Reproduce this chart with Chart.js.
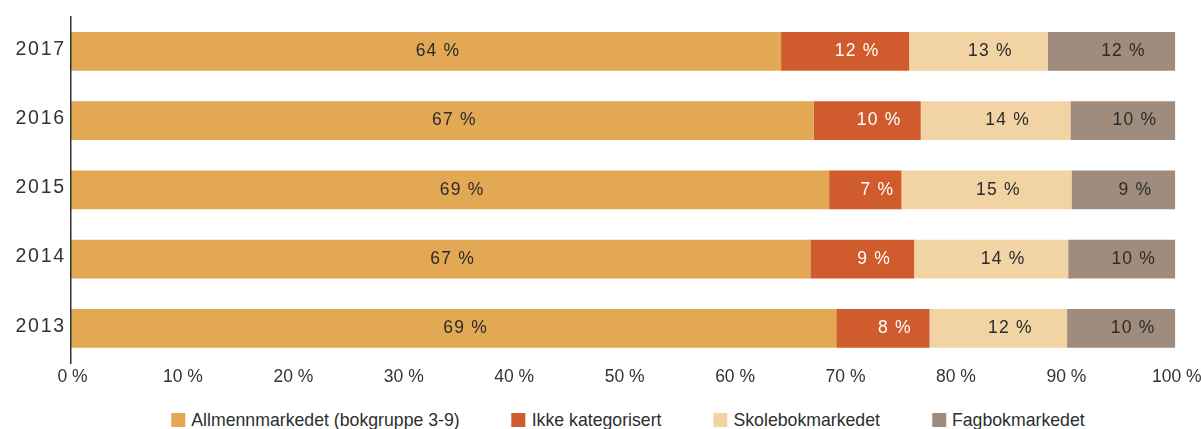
<!DOCTYPE html>
<html>
<head>
<meta charset="utf-8">
<title>Markedsandeler 2013–2017</title>
<script src="https://cdn.jsdelivr.net/npm/chart.js@4.4.1/dist/chart.umd.min.js"></script>
<style>
  html, body { margin: 0; padding: 0; background: #fff; overflow: hidden; }
  #wrap { position: relative; width: 1201px; height: 429px; overflow: hidden; }
  #chart { position: absolute; left: 0; top: 0; }
  #legend {
    position: absolute; top: 413px; left: 628px; transform: translateX(-50%);
    display: flex; white-space: nowrap;
    font-family: "Liberation Sans", Arial, sans-serif; font-size: 17.7px; line-height: 14px; color: #2e2e2e;
  }
  #legend .item { display: flex; align-items: center; margin-right: 52px; }
  #legend .item:last-child { margin-right: 0; }
  #legend .sw { width: 14px; height: 14px; margin-right: 6px; flex: none; }
</style>
</head>
<body>
<div id="wrap">
  <canvas id="chart" width="1201" height="400"></canvas>
  <div id="legend"></div>
</div>
<script>
// Share of sales per market segment, in percent, per year
const years = ['2017', '2016', '2015', '2014', '2013'];
const seriesNames = ['Allmennmarkedet (bokgruppe 3-9)', 'Ikke kategorisert', 'Skolebokmarkedet', 'Fagbokmarkedet'];
const allmenn  = [64.3, 67.25, 68.65, 66.95, 69.3];
const ikkeKat  = [11.6, 9.7, 6.55, 9.4, 8.45];
const skolebok = [12.55, 13.55, 15.4, 13.95, 12.45];
const fagbok   = [11.55, 9.5, 9.4, 9.7, 9.8];
const xTickValues = [0, 10, 20, 30, 40, 50, 60, 70, 80, 90, 100];

const FONT = '"Liberation Sans", Arial, sans-serif';
const colors = ['#E3A854', '#D05C2D', '#F2D3A3', '#A08C7C'];
const labelColors = ['#2b2b2b', '#ffffff', '#2b2b2b', '#2b2b2b'];

// Percentage labels inside each segment
const barLabels = {
  id: 'barLabels',
  afterDatasetsDraw(chart) {
    const ctx = chart.ctx;
    chart.data.datasets.forEach((ds, di) => {
      const meta = chart.getDatasetMeta(di);
      meta.data.forEach((bar, i) => {
        const p = bar.getProps(['x', 'base', 'y'], true);
        ctx.save();
        ctx.font = '17.5px ' + FONT;
        ctx.letterSpacing = '1.2px';
        ctx.fillStyle = labelColors[di];
        ctx.textAlign = 'center';
        ctx.textBaseline = 'middle';
        ctx.fillText(Math.round(ds.data[i]) + ' %', (p.x + p.base) / 2 + 12, p.y);
        ctx.restore();
      });
    });
  }
};

// Slightly tracked year labels on the category axis
const yearTracking = {
  id: 'yearTracking',
  beforeDraw(chart) {
    const s = chart.scales.y;
    if (s && !s._tracked) {
      const orig = s.drawLabels;
      s.drawLabels = function (area) {
        const c = this.ctx;
        c.save();
        c.letterSpacing = '1.8px';
        orig.call(this, area);
        c.restore();
      };
      s._tracked = true;
    }
  }
};

const datasets = [allmenn, ikkeKat, skolebok, fagbok].map((d, i) => ({
  label: seriesNames[i],
  data: d,
  backgroundColor: colors[i],
  borderWidth: 0,
  barPercentage: 0.56,
  categoryPercentage: 1.0
}));

const chart = new Chart(document.getElementById('chart'), {
  type: 'bar',
  data: { labels: years, datasets },
  options: {
    indexAxis: 'y',
    responsive: false,
    animation: false,
    devicePixelRatio: 1,
    layout: { padding: { top: 15, right: 25.7, left: 0, bottom: 0 } },
    plugins: { legend: { display: false }, tooltip: { enabled: false } },
    scales: {
      x: {
        stacked: true,
        min: 0, max: 100,
        afterBuildTicks: (scale) => { scale.ticks = xTickValues.map(v => ({ value: v })); },
        afterFit: (scale) => {
          scale.height = 37;
          scale.paddingLeft = 0;
          scale.paddingRight = 0;
        },
        grid: { display: false, drawTicks: false },
        border: { display: false },
        ticks: {
          callback: (v) => v + ' %',
          color: '#333',
          font: { family: FONT, size: 17.5 },
          padding: 4,
          labelOffset: 1.5,
          maxRotation: 0,
          autoSkip: false
        }
      },
      y: {
        stacked: true,
        afterFit: (scale) => { scale.width = 71; },
        grid: { display: false, drawTicks: false },
        border: { display: true, color: '#333', width: 1.5, z: 1 },
        ticks: {
          color: '#333',
          font: { family: FONT, size: 19.5 },
          padding: 5,
          labelOffset: -2
        }
      }
    }
  },
  plugins: [barLabels, yearTracking]
});

// Legend built from the chart's own legend items
const legendEl = document.getElementById('legend');
chart.options.plugins.legend.labels.generateLabels(chart).forEach((item) => {
  const el = document.createElement('div');
  el.className = 'item';
  const sw = document.createElement('span');
  sw.className = 'sw';
  sw.style.background = item.fillStyle;
  const tx = document.createElement('span');
  tx.textContent = item.text;
  el.appendChild(sw);
  el.appendChild(tx);
  legendEl.appendChild(el);
});
</script>
</body>
</html>
